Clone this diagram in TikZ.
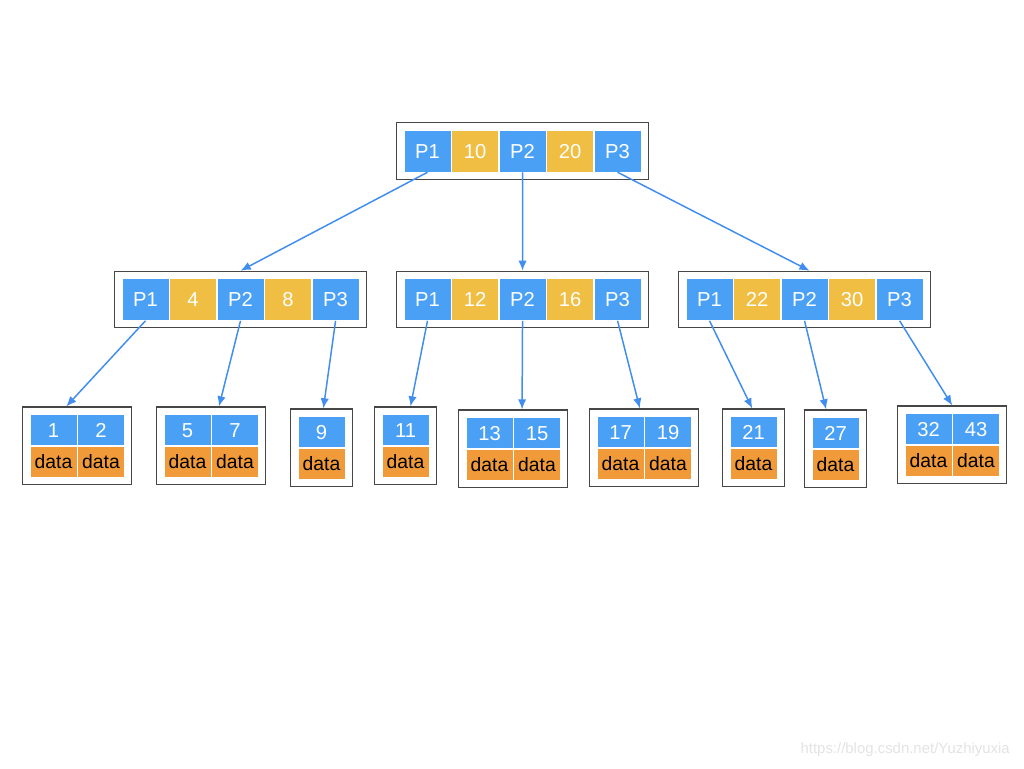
\documentclass[tikz,border=0pt]{standalone}
\usepackage{fontspec}
\setmainfont{Liberation Sans}
\usetikzlibrary{positioning,fit,calc,arrows.meta}
\definecolor{ptrblue}{RGB}{74,160,245}
\definecolor{keyyellow}{RGB}{240,190,66}
\definecolor{dataorange}{RGB}{240,154,58}
\definecolor{linkblue}{RGB}{66,142,240}
\definecolor{boxgray}{RGB}{70,70,70}

\begin{document}
\begin{tikzpicture}[x=0.02cm,y=-0.02cm,node distance=0pt,
  cell/.style={minimum width=0.94cm,inner sep=0pt,text=white,draw=white,line width=0.3pt,
    text height=8.3pt,text depth=0pt,font=\fontsize{11.5}{13}\selectfont},
  ptr/.style={cell,fill=ptrblue,minimum height=0.84cm},
  key/.style={cell,fill=keyyellow,minimum height=0.84cm},
  lkey/.style={cell,fill=ptrblue,minimum height=0.63cm},
  ldata/.style={cell,fill=dataorange,minimum height=0.62cm,text=black,text height=8pt,font=\fontsize{11}{13}\selectfont},
  box/.style={draw=boxgray,line width=0.6pt,inner sep=0.14cm},
  link/.style={draw=linkblue,line width=0.85pt,-{Latex[length=5.8pt,width=4.8pt]}}]
\useasboundingbox (0,0) rectangle (1024,768);

% index nodes
\foreach \n/\x/\y/\a/\b in {root/404/151/10/20,left/122/299.5/4/8,mid/404/299.5/12/16,right/686/299.5/22/30}{
  \node[ptr] (\n-p1) at (\x+23.5,\y) {P1};
  \node[key,right=of \n-p1] (\n-k1) {\a};
  \node[ptr,right=of \n-k1] (\n-p2) {P2};
  \node[key,right=of \n-p2] (\n-k2) {\b};
  \node[ptr,right=of \n-k2] (\n-p3) {P3};
  \node[box,fit=(\n-p1)(\n-p3)] (\n) {};
}

% leaves with two keys
\foreach \n/\x/\y/\a/\b in {leaf1/30/414/1/2,leaf2/164/414/5/7,leaf5/466/417/13/15,leaf6/597/416/17/19,leaf9/905/413/32/43}{
  \node[lkey] (\n-k1) at (\x+23.5,\y+16) {\a};
  \node[lkey,right=of \n-k1] (\n-k2) {\b};
  \node[ldata,below=of \n-k1] (\n-d1) {data};
  \node[ldata,below=of \n-k2] (\n-d2) {data};
  \node[box,fit=(\n-k1)(\n-d2)] (\n) {};
}

% leaves with one key
\foreach \n/\x/\y/\a in {leaf3/298/416/9,leaf4/382/414/11,leaf7/730/416/21,leaf8/812/417/27}{
  \node[lkey] (\n-k1) at (\x+23.5,\y+16) {\a};
  \node[ldata,below=of \n-k1] (\n-d1) {data};
  \node[box,fit=(\n-k1)(\n-d1)] (\n) {};
}

% pointers
\foreach \s/\t/\f in {root-p1/left/0.5,root-p2/mid/0.5,root-p3/right/0.52,
  left-p1/leaf1/0.4,left-p2/leaf2/0.57,left-p3/leaf3/0.53,
  mid-p1/leaf4/0.58,mid-p2/leaf5/0.58,mid-p3/leaf6/0.46,
  right-p1/leaf7/0.48,right-p2/leaf8/0.35,right-p3/leaf9/0.5}
  \draw[link] (\s.south) -- ($(\t.north west)!\f!(\t.north east)$);

\node[font=\fontsize{8.5}{10}\selectfont,text=gray!22,anchor=east] (mark) at (1016,750) {https://blog.csdn.net/Yuzhiyuxia};

\end{tikzpicture}
\end{document}
